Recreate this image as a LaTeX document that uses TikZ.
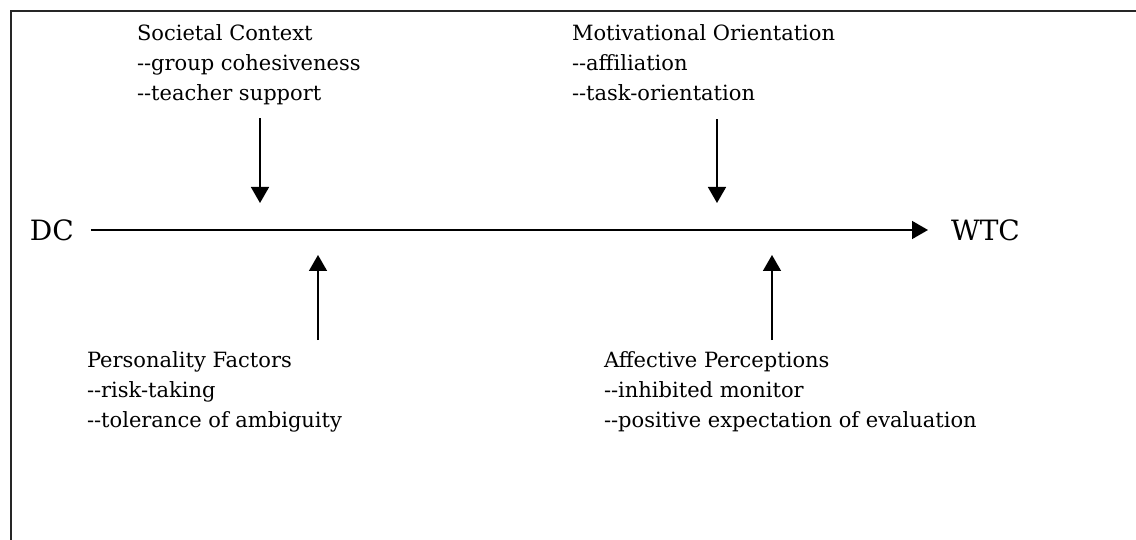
\documentclass[tikz,border=0pt]{standalone}
\usepackage{fontspec}
\setmainfont{DejaVu Serif}
\usetikzlibrary{arrows.meta, calc}
\tikzset{%
  >={Triangle[width=18pt,length=16pt]},
  % Specifications for style of nodes:
     base/.style = {inner sep=0pt, outer sep=0pt, text=black},
    factorBlock/.style = {base, anchor=north west, align=left,
                          font=\fontsize{21}{30}\selectfont},
    endPoint/.style = {base, anchor=west, font=\fontsize{28}{30}\selectfont},
    influence/.style = {->, line width=1.5pt},
}

\begin{document}
\begin{tikzpicture}[x=1pt, y=-1pt]
  \useasboundingbox (0,0) rectangle (1136,540);
  % frame, cut off on the right and at the bottom
  \draw[line width=2.5pt, black!85] (11,540) -- (11,11) -- (1136,11);

  % Specification of nodes (position, etc.)
  \node (dc)  [endPoint] at (30,230) {DC};
  \node (wtc) [endPoint] at (951,230) {WTC};

  \node (societal)     [factorBlock] at (137,25)
                       {Societal Context\\
                        -{}-group cohesiveness\\
                        -{}-teacher support};

  \node (motivational) [factorBlock] at (572,25)
                       {Motivational Orientation\\
                        -{}-affiliation\\
                        -{}-task-orientation};

  \node (personality)  [factorBlock] at (87,352)
                       {Personality Factors\\
                        -{}-risk-taking\\
                        -{}-tolerance of ambiguity};

  \node (affective)    [factorBlock] at (604,352)
                       {Affective Perceptions\\
                        -{}-inhibited monitor\\
                        -{}-positive expectation of evaluation};

  % points where the influences meet the main line
  \coordinate (socHit) at (260,203);
  \coordinate (motHit) at (717,203);
  \coordinate (perHit) at (318,255);
  \coordinate (affHit) at (772,255);

  % Specification of lines between nodes specified above
  \draw[->, line width=1.5pt, shorten <=17pt, shorten >=23pt] (dc.east) -- (wtc.west);

  \draw[influence, shorten <=13pt] (societal.south -| socHit) to (socHit);
  \draw[influence, shorten <=18pt] (motivational.south -| motHit) to (motHit);
  \draw[influence, shorten <=12pt] (personality.north -| perHit) to (perHit);
  \draw[influence, shorten <=12pt] (affective.north -| affHit) to (affHit);

\end{tikzpicture}
\end{document}
